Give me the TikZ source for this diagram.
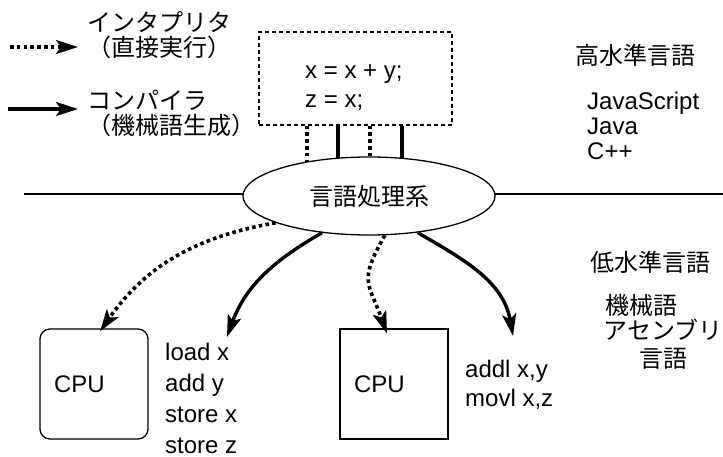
\documentclass[tikz,border=0pt]{standalone}
\usepackage{fontspec}
\setmainfont{Liberation Sans}
\newfontfamily\jp{Noto Sans CJK JP}
\usepackage{tikz}
\usetikzlibrary{arrows.meta}
\usetikzlibrary{shapes.geometric}
\usetikzlibrary{backgrounds}

\tikzset{
  txt/.style={font=\fontsize{24}{30}\selectfont, inner sep=0pt},
  interpline/.style={line width=3.6pt, dash pattern=on 3.6pt off 3.2pt},
  compline/.style={line width=3.4pt},
  tip/.style={-{Stealth[length=22pt,width=14pt,inset=5pt]}},
  cpubox/.style={draw, line width=1.3pt, minimum width=108pt, minimum height=110pt,
    text width=80pt, align=left, font=\fontsize{24}{30}\selectfont}
}

\begin{document}
\begin{tikzpicture}[x=1pt,y=-1pt]
    \useasboundingbox (0,0) rectangle (723,457);

    %Legend
    \coordinate (li0) at (10,47);
    \coordinate (li1) at (78,47);
    \coordinate (lc0) at (8,109);
    \coordinate (lc1) at (78,109);
    \draw[interpline,tip] (li0) -- (li1);
    \draw[compline,tip] (lc0) -- (lc1);
    \node[txt,anchor=west,align=left,font=\fontsize{24}{25}\selectfont\jp] (interp) at (87,35) {インタプリタ\\（直接実行）};
    \node[txt,anchor=west,align=left,font=\fontsize{24}{25}\selectfont\jp] (compil) at (87,113) {コンパイラ\\（機械語生成）};

    %Source
    \node[draw,line width=1.3pt,dash pattern=on 4pt off 3pt,minimum width=193pt,minimum height=93pt] (src) at (355.5,78.5) {};
    \node[txt,anchor=west,align=left,font=\fontsize{24}{29}\selectfont] (code) at (305,88) {x = x + y;\\z = x;};

    \node[draw,ellipse,fill=white,line width=1.3pt,minimum width=252pt,minimum height=78pt,inner sep=0pt] (ell) at (369,196) {\raisebox{-5pt}{\fontsize{24}{30}\selectfont\jp 言語処理系}};

    \begin{scope}[on background layer]
    \coordinate (hl0) at (24,194);
    \coordinate (hl1) at (723,194);
    \draw[line width=1.3pt] (hl0) -- (hl1);
    \foreach \dx/\st in {-48.5/interpline, -17.5/compline, 14.5/interpline, 46.5/compline}
        \draw[\st] ([xshift=\dx pt]src.south) -- ++(0,50);
    \end{scope}

    %Targets
    \node[cpubox,rounded corners=10pt] (cpu1) at (94,384) {CPU};
    \node[cpubox] (cpu2) at (394,384) {CPU};
    \node[txt,anchor=west,align=left,font=\fontsize{24}{31}\selectfont] (asm1) at (165,398) {load x\\add y\\store x\\store z};
    \node[txt,anchor=west,align=left,font=\fontsize{24}{29}\selectfont] (asm2) at (465,385) {addl x,y\\movl x,z};
    \coordinate (c1tip) at (227,337);
    \coordinate (c2tip) at (513,336);

    \draw[interpline,tip] (ell.196) to[out=190,in=55] ([xshift=6pt,yshift=-3pt]cpu1.north);
    \draw[compline,tip] (ell.218) to[out=210,in=70] (c1tip);
    \draw[interpline,tip] (ell.292) to[out=240,in=110,looseness=1.4] ([xshift=-7pt,yshift=-5pt]cpu2.north);
    \draw[compline,tip] (ell.323) to[out=-30,in=100] (c2tip);

    %Languages
    \node[txt,font=\fontsize{24}{30}\selectfont\jp] (high) at (635,55) {高水準言語};
    \node[txt,anchor=west,align=left,font=\fontsize{24}{25}\selectfont] (hll) at (587,126) {JavaScript\\Java\\C++};
    \node[txt,font=\fontsize{24}{30}\selectfont\jp] (low) at (650,262) {低水準言語};
    \node[txt,font=\fontsize{24}{30}\selectfont\jp] (mach) at (641,305) {機械語};
    \node[txt,align=center,font=\fontsize{24}{28}\selectfont\jp] (asmlang) at (663,344) {アセンブリ\\言語};
\end{tikzpicture}
\end{document}
